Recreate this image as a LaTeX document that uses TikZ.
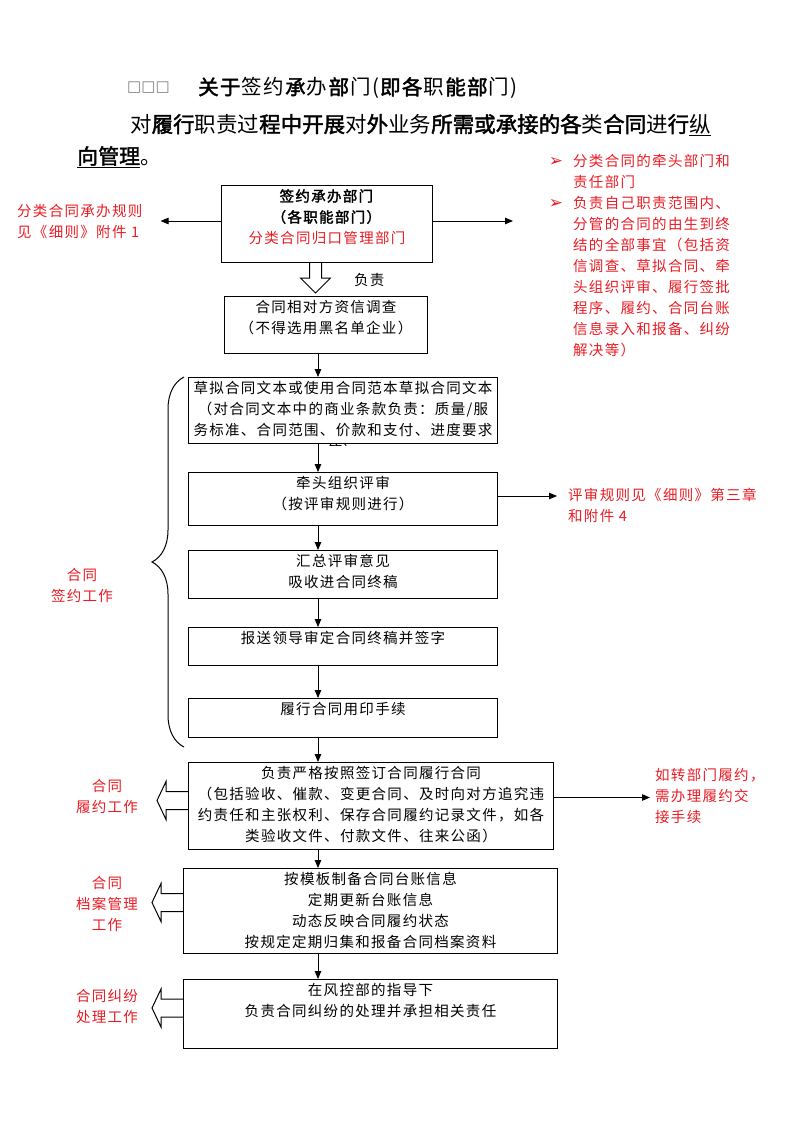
\documentclass[tikz,border=0pt]{standalone}
\usepackage{fontspec}
\setmainfont{Liberation Serif}
\newfontfamily\cjk{Noto Sans CJK SC}[LetterSpace=9,AutoFakeBold=2]
\newfontfamily\cjkhead{Noto Sans CJK SC}[AutoFakeBold=2]
\newfontfamily\cjkwide{Noto Sans CJK SC}[LetterSpace=6,AutoFakeBold=2]
\newfontfamily\dingfont{DejaVu Sans}
\usetikzlibrary{arrows.meta,decorations.pathreplacing}
\definecolor{notered}{RGB}{232,28,36}
% fixed size box, text hung from the top
\newcommand\inbox[3]{\parbox[t][#2][t]{#1}{\centering\rule{0pt}{16pt}#3}}

\begin{document}
\begin{tikzpicture}[x=1pt, y=-1pt,
  box/.style = {draw, line width=1pt, inner sep=0pt, anchor=north west,
    font=\cjk\fontsize{14.5}{21}\selectfont},
  note/.style = {text=notered, inner sep=0pt,
    font=\cjk\fontsize{14.5}{21}\selectfont},
  link/.style = {-{Triangle[length=8pt,width=6.5pt]}, line width=0.8pt},
  hollow/.style = {line width=1pt, line join=miter}]

  \useasboundingbox (0,0) rectangle (800,1132);
  \coordinate (spine) at (318,0);

  % heading
  \node[anchor=west, inner sep=0pt, text=gray,
    font=\dingfont\fontsize{15}{15}\selectfont] (tofu) at (127,88) {□□□};
  \node[anchor=west, inner sep=0pt, font=\cjkwide\fontsize{20.5}{24}\selectfont]
    (head) at (198,88)
    {\textbf{关于}签约\textbf{承}办\textbf{部}门(\textbf{即各}职\textbf{能部}门)};
  \node[anchor=west, inner sep=0pt, font=\cjkhead\fontsize{21.5}{26}\selectfont]
    (scope) at (130,125)
    {对\textbf{履行}职责过\textbf{程中开展}对\textbf{外}业务\textbf{所需或承接的各}类\textbf{合同}进\textbf{行}\underline{纵}};
  \node[anchor=west, inner sep=0pt, font=\cjkhead\fontsize{21}{26}\selectfont]
    (scope2) at (77,157) {\underline{\textbf{向管理}}。};

  % boxes
  \node[box] (lead) at (221,185) {\inbox{211pt}{77pt}{\textbf{签约承办部门}\\
    \textbf{（各职能部门）}\\\textcolor{notered}{分类合同归口管理部门}}};
  \node[box] (check) at (224,296) {\inbox{203pt}{57pt}{合同相对方资信调查\\
    （不得选用黑名单企业）}};
  \begin{scope}
    \clip (180,370) rectangle (505,445.5);
    \node[box] (draft) at (188,377) {\inbox{309pt}{66pt}{草拟合同文本或使用合同范本草拟合同文本\\
      （对合同文本中的商业条款负责：质量/服\\
      务标准、合同范围、价款和支付、进度要求\\等）}};
  \end{scope}
  \node[box] (review) at (188,472) {\inbox{309pt}{53pt}{牵头组织评审\\（按评审规则进行）}};
  \node[box] (merge) at (188,550) {\inbox{309pt}{48pt}{汇总评审意见\\吸收进合同终稿}};
  \node[box] (sign) at (188,627) {\inbox{309pt}{38pt}{报送领导审定合同终稿并签字}};
  \node[box] (seal) at (188,698) {\inbox{309pt}{39pt}{履行合同用印手续}};
  \node[box] (perform) at (188,762) {\inbox{365pt}{87pt}{负责严格按照签订合同履行合同\\
    （包括验收、催款、变更合同、及时向对方追究违\\
    约责任和主张权利、保存合同履约记录文件，如各\\
    类验收文件、付款文件、往来公函）}};
  \node[box] (ledger) at (183,868) {\inbox{374pt}{85pt}{按模板制备合同台账信息\\
    定期更新台账信息\\动态反映合同履约状态\\按规定定期归集和报备合同档案资料}};
  \node[box] (dispute) at (183,979) {\inbox{374pt}{69pt}{在风控部的指导下\\
    负责合同纠纷的处理并承担相关责任}};

  % side notes
  \node[note, anchor=west, align=left] (rule) at (17,222)
    {分类合同承办规则\\见《细则》附件 1};
  \node[note, anchor=west, align=left] (duty) at (573,256)
    {\llap{\dingfont\fontsize{17}{21}\selectfont ➢\hspace{10pt}}分类合同的牵头部门和\\责任部门\\
     \llap{\dingfont\fontsize{17}{21}\selectfont ➢\hspace{10pt}}负责自己职责范围内、\\分管的合同的由生到终\\
     结的全部事宜（包括资\\信调查、草拟合同、牵\\头组织评审、履行签批\\
     程序、履约、合同台账\\信息录入和报备、纠纷\\解决等）};
  \node[note, text=black, anchor=west] (charge) at (354,280) {负责};
  \node[note, anchor=west, align=left] (reviewrule) at (568,505)
    {评审规则见《细则》第三章\\和附件 4};
  \node[note, anchor=west, align=left] (transfer) at (655,796)
    {如转部门履约，\\需办理履约交\\接手续};
  \node[note, align=center] (signwork) at (82,585) {合同\\签约工作};
  \node[note, align=center] (performwork) at (107,796) {合同\\履约工作};
  \node[note, align=center] (ledgerwork) at (107,904) {合同\\档案管理\\工作};
  \node[note, align=center] (disputework) at (107,1006) {合同纠纷\\处理工作};

  % connectors
  \draw[link, shorten >=18pt] ([yshift=3pt]lead.west) -- ([yshift=3pt]lead.west -| rule.east);
  \draw[link, shorten >=60pt] ([yshift=3pt]lead.east) -- ([yshift=3pt]lead.east -| duty.west);
  \draw[link, shorten >=11pt] ([yshift=3pt]review.east) -- ([yshift=3pt]review.east -| reviewrule.west);
  \draw[link, shorten >=5pt] ([yshift=8.5pt]perform.east) -- ([yshift=8.5pt]perform.east -| transfer.west);
  \foreach \from/\to in {check/draft, draft/review, review/merge, merge/sign,
      sign/seal, seal/perform, perform/ledger, ledger/dispute}
    \draw[link] (\from.south -| spine) -- (\to.north -| spine);

  % block arrows
  \draw[hollow] ([xshift=-11.5pt]lead.south) ++(-6,0) -- ++(0,15) -- ++(-9,0)
    -- ++(15,15) -- ++(15,-15) -- ++(-9,0) -- ++(0,-15);
  \foreach \b/\dy in {perform/5.5, ledger/8.5, dispute/6}
    \draw[hollow] ([yshift=\dy pt]\b.west) ++(0,-9) -- ++(-22,0) -- ++(0,-10)
      -- ++(-9,19) -- ++(9,19) -- ++(0,-10) -- ++(22,0);

  % brace
  \draw[line width=1pt, decorate, decoration={brace, amplitude=32pt}]
    (184,747) -- (184,377);
\end{tikzpicture}
\end{document}
